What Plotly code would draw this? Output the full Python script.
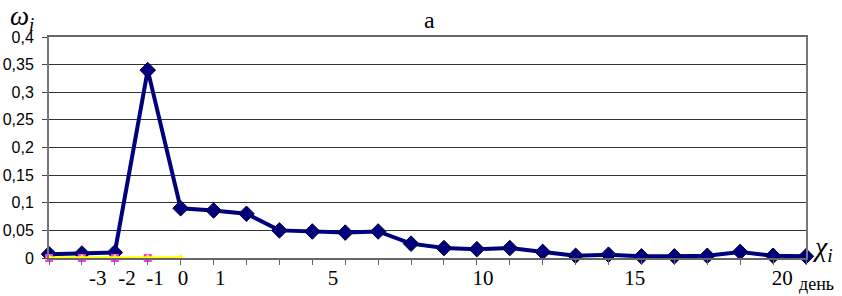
import plotly.graph_objects as go

# data
x_index = list(range(24))
omega = [0.007, 0.008, 0.01, 0.34, 0.09, 0.086, 0.08, 0.05, 0.048, 0.046, 0.048,
         0.026, 0.018, 0.016, 0.018, 0.011, 0.004, 0.006, 0.003, 0.003, 0.004,
         0.011, 0.004, 0.003]
pink_x = [0, 1, 2, 3]
pink_y = [0, 0, 0, 0]
yellow_x = [0, 1, 2, 3, 4]
yellow_y = [0, 0, 0, 0, 0]

x_tick_labels = ["-3", "-2", "-1", "0", "1", "5", "10", "15", "20"]
x_tick_pos = [1.48, 2.37, 3.22, 4.07, 5.2, 8.63, 13.19, 17.8, 22.28]
y_tick_vals = [0, 0.05, 0.1, 0.15, 0.2, 0.25, 0.3, 0.35, 0.4]
y_tick_text = ["0", "0,05", "0,1", "0,15", "0,2", "0,25", "0,3", "0,35", "0,4"]

W, H = 842, 296
L, R, T, B = 49, 36, 37, 38
SERIF = "Liberation Serif, Times New Roman, Tinos, DejaVu Serif, serif"
SANS = "Liberation Sans, Arial, Arimo, sans-serif"

fig = go.Figure()
fig.add_trace(go.Scatter(
    x=x_index, y=omega, mode="lines+markers",
    line=dict(color="#00007F", width=4),
    marker=dict(symbol="diamond", size=12, color="#00007F",
                line=dict(color="#000033", width=1)),
    cliponaxis=False, showlegend=False))
fig.add_trace(go.Scatter(
    x=pink_x, y=pink_y, mode="markers",
    marker=dict(symbol="square", size=8, color="#FF33FF"),
    cliponaxis=False, showlegend=False))
fig.add_trace(go.Scatter(
    x=yellow_x, y=yellow_y, mode="lines+markers",
    line=dict(color="#FFFF00", width=3.5),
    marker=dict(symbol="triangle-up", size=8, color="#FFFF00"),
    cliponaxis=False, showlegend=False))

fig.update_layout(
    width=W, height=H,
    margin=dict(l=L, r=R, t=T, b=B, autoexpand=False),
    paper_bgcolor="white", plot_bgcolor="white",
    xaxis=dict(range=[0, 23], tickvals=x_tick_pos, ticktext=x_tick_labels,
               automargin=False,
               ticks="", showgrid=False, zeroline=False,
               showline=True, linecolor="#666666", linewidth=1.5, mirror=True,
               tickfont=dict(family=SERIF, size=21, color="black"),
               minor=dict(tickvals=x_index, ticks="outside", ticklen=5,
                          tickcolor="#666666", showgrid=False)),
    yaxis=dict(range=[0, 0.4], tickvals=y_tick_vals, ticktext=y_tick_text,
               automargin=False,
               ticks="outside", ticklen=5, tickcolor="#444444",
               ticklabelstandoff=5,
               showgrid=True, gridcolor="#333333", gridwidth=1,
               zeroline=False, showline=True, linecolor="#777777", linewidth=2,
               mirror=True,
               tickfont=dict(family=SANS, size=16, color="black")),
)

pw, ph = W - L - R, H - T - B


def px_ann(text, x, y, size, xanchor="left"):
    fig.add_annotation(text=text, x=(x - L) / pw, y=(H - B - y) / ph,
                       xref="paper", yref="paper", xanchor=xanchor,
                       yanchor="middle", showarrow=False,
                       font=dict(family=SERIF, size=size, color="black"))


px_ann("a", 429, 20, 24, xanchor="center")
px_ann("<i>ω</i><sub><i>i</i></sub>", 8, 18, 27)
px_ann("<i>χ</i><sub><i>i</i></sub>", 810, 248, 28)
px_ann("день", 797, 284, 18)

fig.write_html("out.html",
               config={"displayModeBar": False},
               post_script="document.body.style.margin='0';document.body.style.overflow='hidden';")
